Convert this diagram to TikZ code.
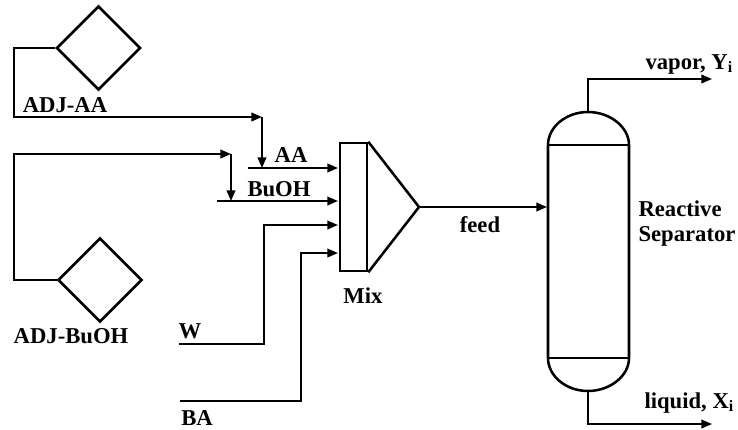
\documentclass[tikz,border=0pt]{standalone}
\usepackage{fontspec}
\setmainfont{Liberation Serif}
\usetikzlibrary{shapes.geometric,arrows.meta}
\tikzset{every picture/.style={line width=0.75pt}}
\tikzset{
  stream/.style={line width=1.3pt,-{Triangle[length=8pt,width=6.5pt]}},
  unit/.style={draw,line width=1.9pt},
  adjuster/.style={unit,diamond,aspect=1,inner sep=0pt,minimum width=63pt,minimum height=63pt},
  label/.style={font=\fontsize{17}{20}\selectfont\bfseries,inner sep=0pt,align=left}
}

\begin{document}
\begin{tikzpicture}[x=0.75pt,y=0.75pt,yscale=-1,xscale=1]
\useasboundingbox (0,0) rectangle (738,429);

% Adjusters
\node [adjuster] (adjaa) at (98.5,48) {};
\node [adjuster] (adjbuoh) at (100,280) {};

% Mixer
\node [unit,inner sep=0pt,minimum width=20.25pt,minimum height=96pt] (mixbox) at (353.5,207) {};
\node [coordinate] (mixtip) at (419,207) {};
\draw [unit,line join=miter] (mixbox.north east) -- (mixtip) -- (mixbox.south east) ;

% Reactive separator
\node [coordinate] (coltop) at (588,112) {};
\node [coordinate] (colbot) at (588,391) {};
\node [coordinate] (colin) at (547,207) {};
\draw [unit] (548,145) .. controls (548,127) and (566,112) .. (coltop) .. controls (610,112) and (629,127) .. (629,145) -- (629,358) .. controls (629,376) and (610,391) .. (colbot) .. controls (566,391) and (548,376) .. (548,358) -- cycle ;
\draw [unit] (548,145) -- (629,145) ;
\draw [unit] (548,358) -- (629,358) ;

% Stream points
\node [coordinate] (aasplit) at (262,117) {};
\node [coordinate] (aajoin) at (262,168) {};
\node [coordinate] (aastart) at (248,168) {};
\node [coordinate] (aaend) at (338,168) {};
\node [coordinate] (buohsplit) at (231,154) {};
\node [coordinate] (buohjoin) at (231,201) {};
\node [coordinate] (buohstart) at (217,201) {};
\node [coordinate] (buohend) at (338,201) {};
\node [coordinate] (wstart) at (179,344) {};
\node [coordinate] (wend) at (338,225) {};
\node [coordinate] (bastart) at (180,401) {};
\node [coordinate] (baend) at (338,253) {};
\node [coordinate] (vaporend) at (712,79) {};
\node [coordinate] (liquidend) at (712,424) {};

% Streams
\draw [stream] (adjaa.west) -- (14,48) -- (14,117) -- (aasplit) ;
\draw [stream] (aasplit) -- (aajoin) ;
\draw [stream] (aastart) -- (aaend) ;
\draw [stream] (adjbuoh.west) -- (14,280) -- (14,154) -- (buohsplit) ;
\draw [stream] (buohsplit) -- (buohjoin) ;
\draw [stream] (buohstart) -- (buohend) ;
\draw [stream] (wstart) -- (264,344) -- (264,225) -- (wend) ;
\draw [stream] (bastart) -- (301,401) -- (301,253) -- (baend) ;
\draw [stream] (mixtip) -- (colin) ;
\draw [stream] (coltop) -- (588,79) -- (vaporend) ;
\draw [stream] (colbot) -- (588,424) -- (liquidend) ;

% Text Node
\node [label] (adjaatext) at (65,105) {ADJ-AA};
% Text Node
\node [label] (adjbuohtext) at (71,336) {ADJ-BuOH};
% Text Node
\node [label] (aatext) at (291,155) {AA};
% Text Node
\node [label] (buohtext) at (279,189) {BuOH};
% Text Node
\node [label] (wtext) at (190,331) {W};
% Text Node
\node [label] (batext) at (197,418) {BA};
% Text Node
\node [label] (mixtext) at (363,296) {Mix};
% Text Node
\node [label] (feedtext) at (480,225) {feed};
% Text Node
\node [label,anchor=base west] (vaportext) at (645,69) {vapor, Y\textsubscript{i}};
% Text Node
\node [label,anchor=base west] (liquidtext) at (644,408) {liquid, X\textsubscript{i}};
% Text Node
\node [label,anchor=base west] (reactivetext) at (638,216) {Reactive};
% Text Node
\node [label,anchor=base west] (separatortext) at (638,241) {Separator};

\end{tikzpicture}
\end{document}
